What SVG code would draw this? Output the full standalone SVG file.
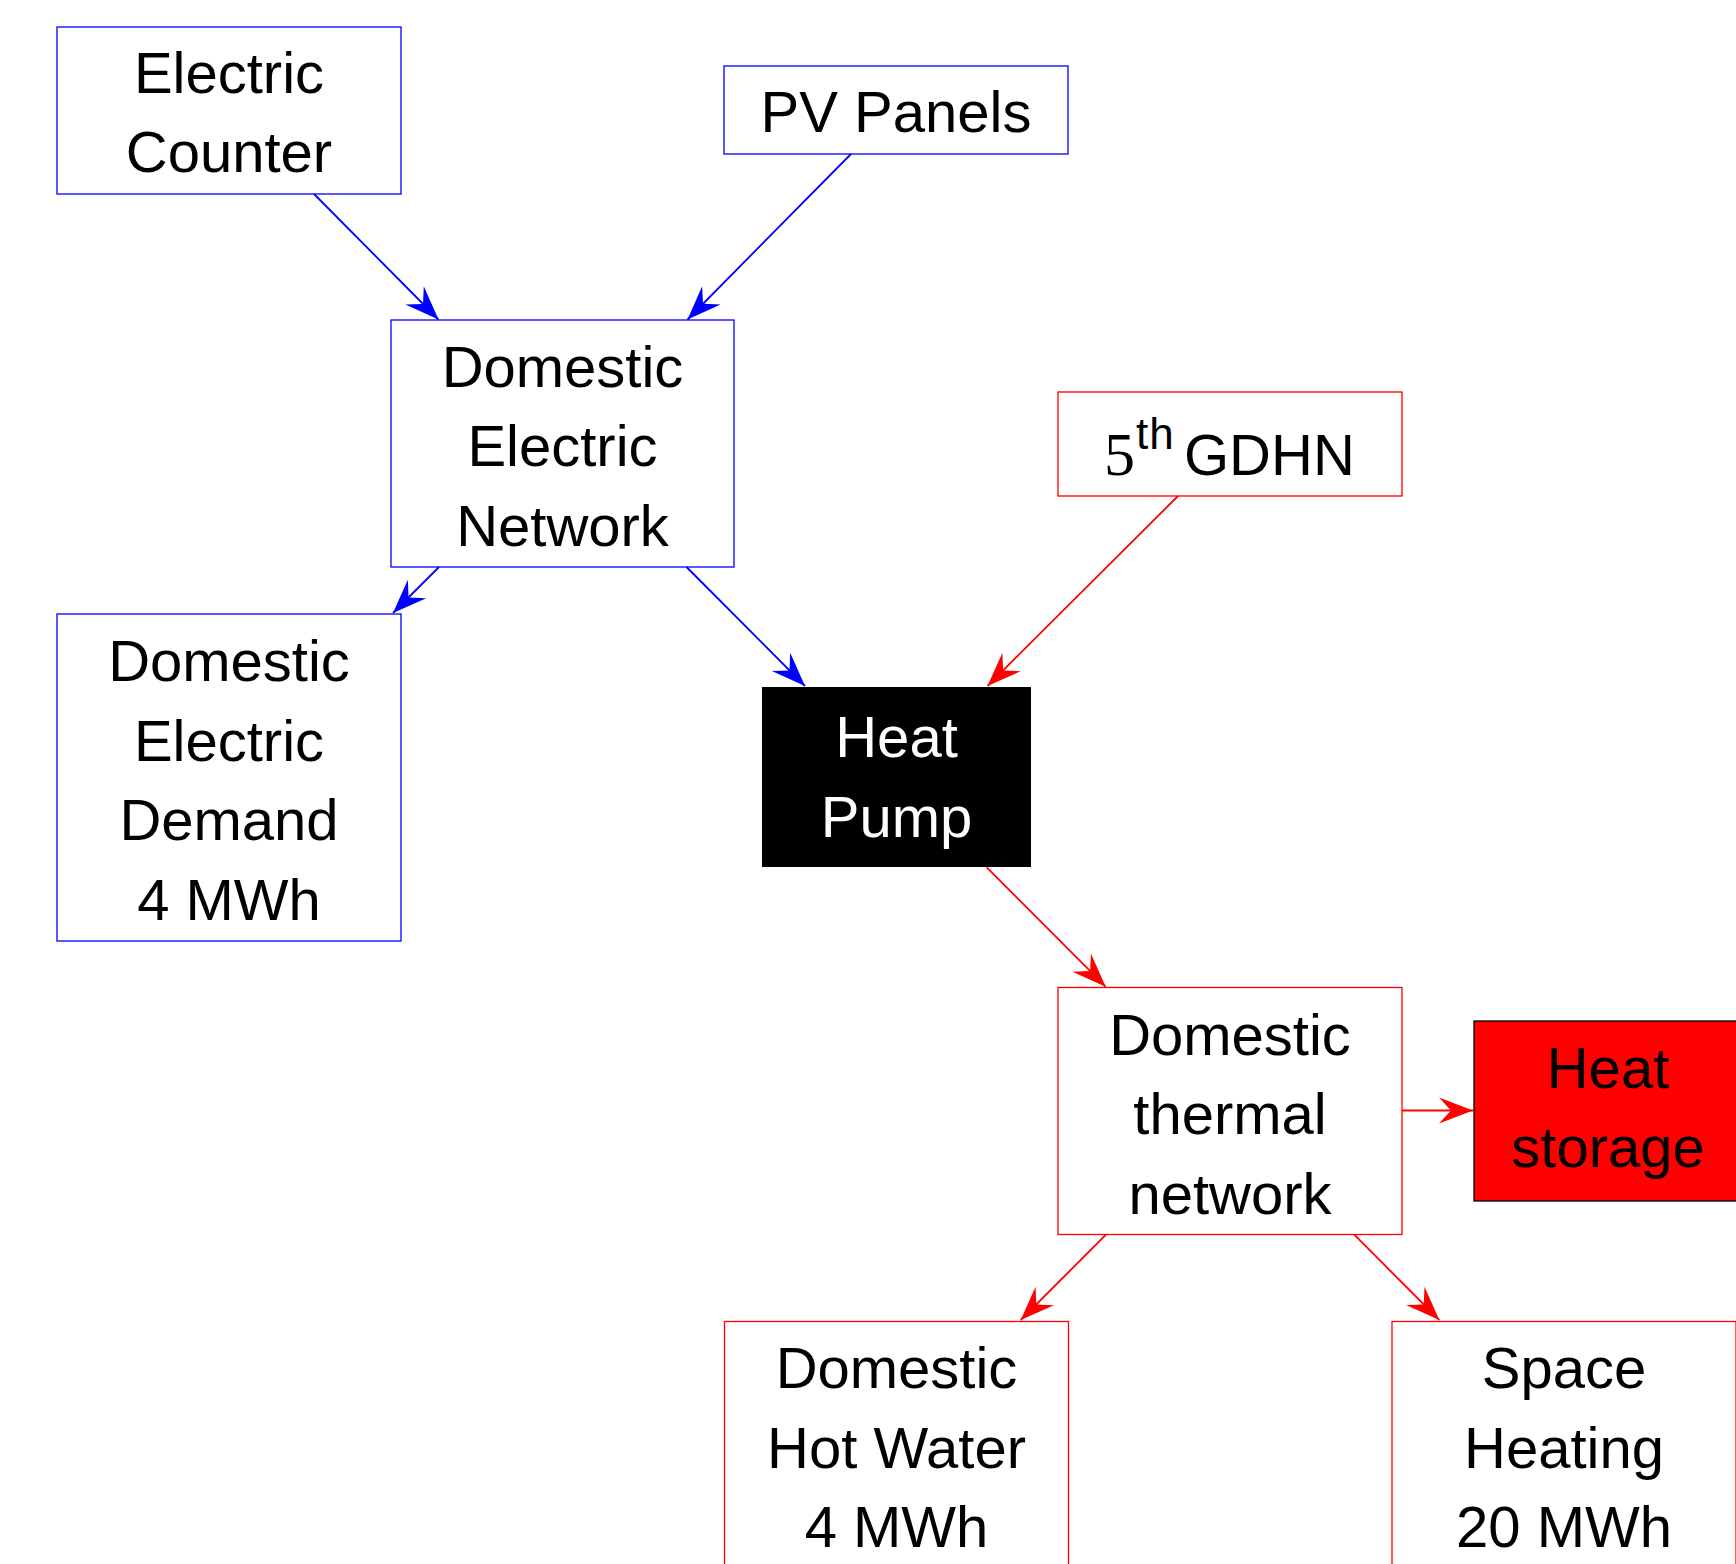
<svg xmlns="http://www.w3.org/2000/svg" width="1736" height="1564" viewBox="0 0 1736 1564">
<style>
.t{font-family:"Liberation Sans",Arial,sans-serif;font-size:58px;fill:#000;text-anchor:middle}
.w{fill:#fff}
.bb{fill:#fff;stroke:#0000ff;stroke-width:1.3}
.rb{fill:#fff;stroke:#ff0000;stroke-width:1.3}
.bl{stroke:#0000ff;stroke-width:1.8;fill:none;marker-end:url(#ab)}
.rl{stroke:#ff0000;stroke-width:1.8;fill:none;marker-end:url(#ar)}
</style>
<defs>
<marker id="ab" markerUnits="userSpaceOnUse" markerWidth="40" markerHeight="40" refX="0" refY="0" orient="auto" overflow="visible">
<path d="M0,0 L-34,-13 L-22,0 L-34,13 Z" fill="#0000ff"/>
</marker>
<marker id="ar" markerUnits="userSpaceOnUse" markerWidth="40" markerHeight="40" refX="0" refY="0" orient="auto" overflow="visible">
<path d="M0,0 L-34,-13 L-22,0 L-34,13 Z" fill="#ff0000"/>
</marker>
</defs>
<rect width="1736" height="1564" fill="#fff"/>
<g id="electric-counter">
<rect class="bb" x="57" y="27" width="344" height="167"/>
<text class="t" x="229" y="93">Electric</text>
<text class="t" x="229" y="172">Counter</text>
</g>
<g id="pv-panels">
<rect class="bb" x="724" y="66" width="344" height="88"/>
<text class="t" x="896" y="132">PV Panels</text>
</g>
<g id="domestic-electric-network">
<rect class="bb" x="391" y="320" width="343" height="247"/>
<text class="t" x="562.5" y="386.5">Domestic</text>
<text class="t" x="562.5" y="466">Electric</text>
<text class="t" x="562.5" y="545.5">Network</text>
</g>
<g id="domestic-electric-demand">
<rect class="bb" x="57" y="614" width="344" height="327"/>
<text class="t" x="229" y="681">Domestic</text>
<text class="t" x="229" y="760.5">Electric</text>
<text class="t" x="229" y="840">Demand</text>
<text class="t" x="229" y="919.5">4 MWh</text>
</g>
<g id="gdhn">
<rect class="rb" x="1058" y="392" width="344" height="104"/>
<text class="t" style="text-anchor:start" y="475"><tspan x="1104" font-family="'Liberation Serif',serif" font-size="62">5</tspan><tspan x="1136" y="449" font-size="44" letter-spacing="1">th</tspan><tspan x="1184" y="475">GDHN</tspan></text>
</g>
<g id="heat-pump">
<rect x="762" y="687" width="269" height="180" fill="#000"/>
<text class="t w" x="896.5" y="757">Heat</text>
<text class="t w" x="896.5" y="836.5">Pump</text>
</g>
<g id="domestic-thermal-network">
<rect class="rb" x="1058" y="987.5" width="344" height="247"/>
<text class="t" x="1230" y="1055">Domestic</text>
<text class="t" x="1230" y="1134">thermal</text>
<text class="t" x="1230" y="1213.5">network</text>
</g>
<g id="heat-storage">
<rect x="1474" y="1021" width="268" height="180" fill="#ff0000" stroke="#000" stroke-width="1.3"/>
<text class="t" x="1608" y="1088">Heat</text>
<text class="t" x="1608" y="1167">storage</text>
</g>
<g id="domestic-hot-water">
<rect class="rb" x="724.5" y="1321.5" width="344" height="247"/>
<text class="t" x="896.5" y="1388">Domestic</text>
<text class="t" x="896.5" y="1468">Hot Water</text>
<text class="t" x="896.5" y="1547">4 MWh</text>
</g>
<g id="space-heating">
<rect class="rb" x="1392" y="1321.5" width="344" height="247"/>
<text class="t" x="1564" y="1388">Space</text>
<text class="t" x="1564" y="1468">Heating</text>
<text class="t" x="1564" y="1547">20 MWh</text>
</g>
<g id="connectors">
<line class="bl" x1="314" y1="194" x2="438.5" y2="319.5"/>
<line class="bl" x1="851" y1="154" x2="687.5" y2="319.5"/>
<line class="bl" x1="439" y1="567" x2="393" y2="613"/>
<line class="bl" x1="686.5" y1="567" x2="805" y2="686"/>
<line class="rl" x1="1178" y1="496" x2="987.5" y2="686"/>
<line class="rl" x1="986.7" y1="867.3" x2="1105.7" y2="986.7"/>
<line class="rl" x1="1402" y1="1110.5" x2="1473" y2="1110.5"/>
<line class="rl" x1="1106" y1="1234.7" x2="1020.7" y2="1320"/>
<line class="rl" x1="1354.3" y1="1234.7" x2="1439.3" y2="1320"/>
</g>
</svg>
